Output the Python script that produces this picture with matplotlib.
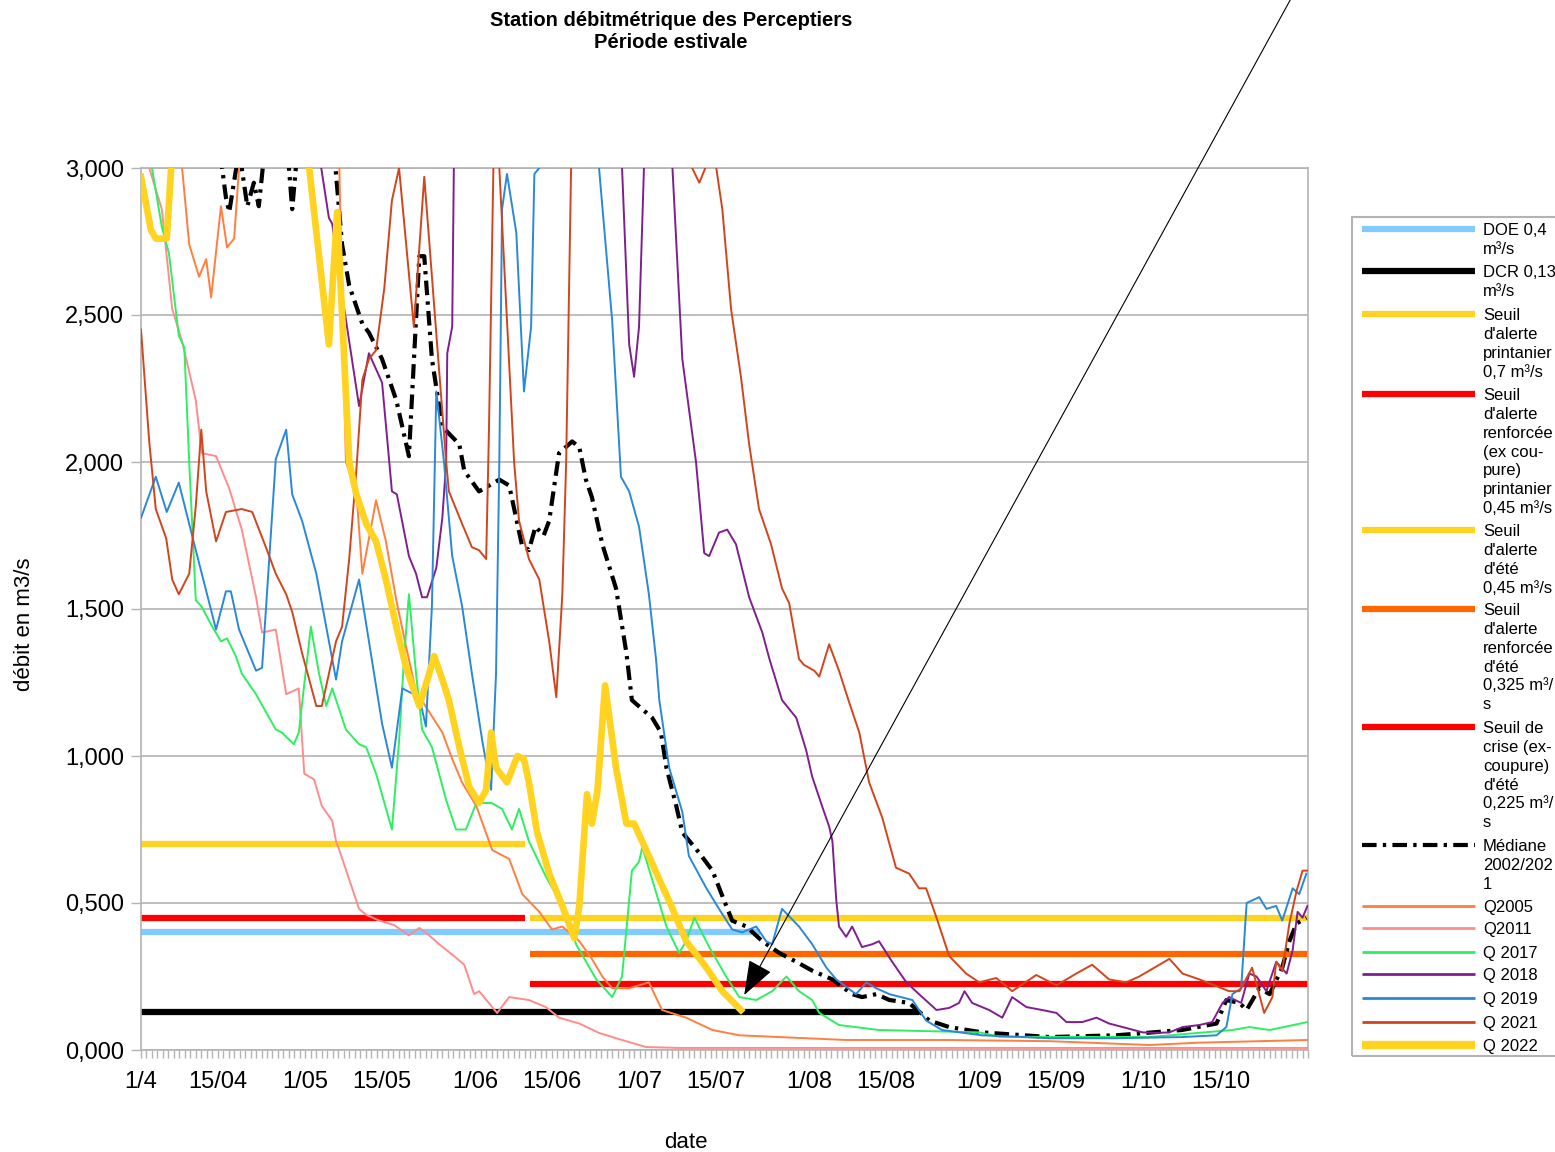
import numpy as np
import matplotlib.pyplot as plt
from matplotlib.lines import Line2D
from matplotlib.patches import Rectangle

plt.rcParams['font.family'] = ['Liberation Sans', 'DejaVu Sans']

# axe des x : jours comptés depuis le 1er avril
jours_ticks = [0, 14, 30, 44, 61, 75, 91, 105, 122, 136, 153, 167, 183, 197]
labels_ticks = ['1/4', '15/04', '1/05', '15/05', '1/06', '15/06', '1/07', '15/07',
                '1/08', '15/08', '1/09', '15/09', '1/10', '15/10']
y_ticks = [0, 0.5, 1.0, 1.5, 2.0, 2.5, 3.0]
y_labels = ['0,000', '0,500', '1,000', '1,500', '2,000', '2,500', '3,000']

# seuils : valeur, jour début, jour fin
doe = [0.4, 0, 113]
dcr = [0.13, 0, 142]
alerte_print = [0.7, 0, 70]
renf_print = [0.45, 0, 70]
alerte_ete = [0.45, 71, 213]
renf_ete = [0.325, 71, 213]
crise_ete = [0.225, 71, 213]

# médiane 2002/2021
med_j = [0, 13, 14.8, 15.5, 16.1, 17.3, 18, 19.4, 20.6, 21.5, 22.5, 26, 27, 27.6, 28.5, 30, 34,
         35.5, 36.7, 38, 40.4, 41.6, 44, 46.6, 48.9, 50.8, 51.7, 53.1, 55, 58.1, 59, 61.7, 65.4,
         67.2, 69.5, 70.8, 72, 73.5, 74.5, 76.3, 78.7, 80, 81.2, 82.3, 84.2, 86.7, 88.6, 89.6,
         93.3, 94.9, 95.9, 97.7, 98.8, 101.9, 104.3, 106.4, 107.9, 110.5, 113.4, 116.5, 119.6,
         122.5, 126.2, 129.8, 131.6, 134.2, 136.6, 140.2, 143.9, 147.5, 153.5, 165.8, 178, 190,
         196.3, 198.1, 200.5, 201.8, 204.1, 206, 208.3, 209.6, 210.9, 212.7]
med_q = [3.4, 3.3, 3.0, 2.9, 2.85, 2.99, 3.05, 2.87, 2.95, 2.87, 3.05, 3.3, 3.0, 2.86, 3.05, 3.4, 3.4,
         3.0, 2.74, 2.6, 2.47, 2.44, 2.35, 2.21, 2.02, 2.70, 2.70, 2.35, 2.12, 2.06, 1.97, 1.90, 1.94,
         1.92, 1.72, 1.70, 1.78, 1.75, 1.80, 2.03, 2.07, 2.05, 1.94, 1.88, 1.72, 1.57, 1.35, 1.19,
         1.13, 1.08, 0.96, 0.83, 0.74, 0.67, 0.61, 0.51, 0.44, 0.42, 0.37, 0.33, 0.30,
         0.27, 0.24, 0.19, 0.18, 0.19, 0.17, 0.16, 0.10, 0.078, 0.06, 0.044, 0.05, 0.068,
         0.09, 0.17, 0.16, 0.136, 0.21, 0.19, 0.28, 0.37, 0.43, 0.45]

q2005_j = [0, 5, 7.5, 8.8, 10.6, 11.9, 12.8, 14.6, 15.7, 17, 17.9, 18.8, 34, 36.2, 36.7, 37.4, 39.3,
           40.4, 42.9, 44.7, 46.6, 48.4, 50.2, 52.6, 55, 56.8, 58.6, 61.2, 64.1, 67.2, 69.6, 72.7,
           75, 76.9, 80, 82.3, 84.2, 86, 89.1, 92.7, 95.1, 99.5, 104.3, 109.2, 116.5, 128.7, 147.5,
           165.8, 184, 193.2, 212.9]
q2005_q = [3.3, 3.3, 3.0, 2.74, 2.63, 2.69, 2.56, 2.87, 2.73, 2.76, 3.0, 3.3, 3.3, 3.0, 2.55, 2.0, 1.90,
           1.62, 1.87, 1.73, 1.53, 1.37, 1.22, 1.15, 1.08, 0.99, 0.91, 0.83, 0.68, 0.65, 0.53, 0.47,
           0.41, 0.42, 0.37, 0.31, 0.25, 0.21, 0.21, 0.23, 0.136, 0.11, 0.068, 0.05, 0.044, 0.034, 0.034,
           0.03, 0.017, 0.025, 0.034]

q2011_j = [0, 1.5, 3.8, 5.7, 7.5, 10, 11.1, 13.7, 16.1, 18.4, 21, 22.1, 24.6, 26.5, 28.8, 29.8,
           31.6, 33, 34.9, 35.6, 36.2, 38, 39.8, 41.1, 43.5, 46.2, 48.9, 50.8, 52.6, 54.4, 57.1, 59,
           60.8, 61.7, 65, 67.2, 70.8, 73.9, 76.3, 80, 83.6, 87.8, 92.2, 98.2, 212.9]
q2011_q = [3.2, 3.0, 2.86, 2.52, 2.41, 2.21, 2.03, 2.02, 1.91, 1.77, 1.54, 1.42, 1.43, 1.21, 1.23, 0.94,
           0.92, 0.83, 0.78, 0.71, 0.68, 0.58, 0.48, 0.46, 0.44, 0.425, 0.39, 0.415, 0.39, 0.36, 0.32, 0.29,
           0.19, 0.20, 0.126, 0.18, 0.17, 0.146, 0.11, 0.09, 0.058, 0.034, 0.01, 0.007, 0.007]

q2017_j = [0, 2, 3.8, 5.1, 6.9, 7.9, 8.8, 10, 11, 13, 14.6, 15.7, 17.3, 18.4, 21, 22.8, 24.6, 25.7,
           27.9, 28.8, 31, 32.5, 33.8, 34.9, 37.4, 39.8, 41.1, 42.9, 45.8, 47.1, 48, 48.9, 50.2,
           51.3, 53.1, 55.7, 57.5, 59.3, 61.2, 64, 65.9, 67.7, 69, 70.8, 73.9, 76.9, 79.4, 83.1, 86,
           87.8, 89.6, 90.9, 91.5, 95.9, 98.2, 99.5, 101, 103.7, 106.8, 109.2, 112.3, 115.2, 117.8,
           120.1, 122.5, 123.8, 127.4, 134.7, 153, 156.7, 184, 199.2, 202.3, 206, 212.9]
q2017_q = [3.3, 3.0, 2.80, 2.71, 2.43, 2.39, 2.0, 1.53, 1.51, 1.44, 1.39, 1.40, 1.34, 1.28, 1.21, 1.15,
           1.09, 1.08, 1.04, 1.08, 1.44, 1.28, 1.17, 1.23, 1.09, 1.04, 1.03, 0.94, 0.75, 1.05, 1.33, 1.55,
           1.28, 1.09, 1.03, 0.85, 0.75, 0.75, 0.84, 0.84, 0.82, 0.75, 0.82, 0.71, 0.59, 0.49, 0.36, 0.24,
           0.18, 0.25, 0.61, 0.64, 0.69, 0.42, 0.33, 0.37, 0.45, 0.35, 0.25, 0.18, 0.17, 0.20, 0.25,
           0.20, 0.17, 0.126, 0.085, 0.068, 0.06, 0.045, 0.044, 0.068, 0.078, 0.068, 0.095]

q2018_j = [0, 30, 32.9, 34.3, 34.9, 36.7, 39.8, 41.6, 44, 45.8, 46.7, 48.9, 50.2, 51.3, 52.2, 53.9,
           55, 55.7, 55.9, 56.8, 57.1, 57.7, 87.3, 87.8, 89.1, 90, 90.9, 91.8, 92.7, 96, 97, 98.8,
           101.3, 102.8, 103.7, 105.5, 107, 108.6, 111, 113.4, 114.7, 117, 119.6, 121.4, 122.5,
           124.3, 125.6, 126.2, 126.9, 127.4, 128.7, 129.8, 131.6, 133.5, 134.7, 137.1, 139.7, 142,
           145.2, 147.5, 149.3, 150.3, 151.7, 154.8, 157.2, 159, 161.6, 164.5, 167.1, 168.9, 171.8,
           174.4, 176.7, 179.8, 182.8, 185.3, 187.7, 190.1, 193.2, 195.5, 197.4, 198.6, 200.8,
           202.3, 203.6, 205.4, 207.2, 209.1, 210.2, 211.1, 212, 212.9]
q2018_q = [3.5, 3.5, 3.0, 2.83, 2.81, 2.57, 2.19, 2.37, 2.27, 1.90, 1.89, 1.68, 1.62, 1.54, 1.54, 1.64,
           1.81, 2.0, 2.37, 2.46, 3.0, 3.4, 3.4, 3.0, 2.40, 2.29, 2.46, 3.0, 3.3, 3.3, 3.0, 2.35,
           2.0, 1.69, 1.68, 1.76, 1.77, 1.72, 1.54, 1.42, 1.33, 1.19, 1.13, 1.02, 0.93,
           0.83, 0.76, 0.71, 0.51, 0.42, 0.385, 0.42, 0.35, 0.36, 0.37, 0.30, 0.23, 0.19,
           0.136, 0.143, 0.16, 0.20, 0.16, 0.136, 0.11, 0.18, 0.146, 0.136, 0.126, 0.095, 0.095,
           0.11, 0.09, 0.075, 0.06, 0.058, 0.06, 0.078, 0.085, 0.095, 0.16, 0.18, 0.16,
           0.26, 0.25, 0.20, 0.30, 0.26, 0.34, 0.47, 0.45, 0.49]

q2019_j = [0, 2.7, 4.7, 6.9, 10, 13.7, 15.5, 16.4, 17.9, 21, 22.1, 24.6, 26.5, 27.6, 29.4, 32, 33.8,
           35.6, 36.7, 39.8, 41.6, 44, 45.8, 47.7, 50.8, 52, 53.1, 53.9, 55.3, 56.8, 58.6, 60.4, 62.3,
           63.9, 64.8, 65.4, 65.9, 66.8, 68.5, 69.9, 71.2, 71.8, 72.7, 73.6, 82.7, 83.6, 86, 87.6,
           89.1, 90.9, 92.7, 94, 94.6, 96.4, 98.8, 100, 103.2, 105.5, 107.9, 109.7, 111, 112.3,
           114.1, 115.2, 117, 120.1, 122.5, 125.1, 126.9, 130.5, 132.4, 134.2, 136.6, 140.8, 143.3,
           146.2, 153.5, 165.8, 178, 190, 196.3, 198.1, 199.2, 200.8, 201.8, 204.1, 205.4, 207.2,
           208.3, 210.2, 211.4, 212.7]
q2019_q = [1.81, 1.95, 1.83, 1.93, 1.70, 1.43, 1.56, 1.56, 1.43, 1.29, 1.30, 2.01, 2.11, 1.89, 1.80, 1.62, 1.44,
           1.26, 1.39, 1.60, 1.39, 1.11, 0.96, 1.23, 1.20, 1.10, 1.51, 2.24, 2.0, 1.68, 1.51, 1.28, 1.05,
           0.885, 1.28, 2.0, 2.86, 2.98, 2.78, 2.24, 2.46, 2.98, 3.0, 3.2, 3.2, 3.0, 2.48, 1.95,
           1.90, 1.78, 1.55, 1.33, 1.19, 0.96, 0.81, 0.66, 0.55, 0.48, 0.41, 0.40, 0.41, 0.42,
           0.37, 0.36, 0.48, 0.42, 0.36, 0.28, 0.24, 0.19, 0.23, 0.21, 0.19, 0.17, 0.10,
           0.068, 0.05, 0.04, 0.04, 0.044, 0.05, 0.078, 0.19, 0.21, 0.50, 0.52, 0.48, 0.49,
           0.44, 0.55, 0.53, 0.60]

q2021_j = [0, 1.5, 2.7, 4.6, 5.7, 6.9, 8.8, 10, 11, 11.9, 13.7, 15.5, 18.4, 20.3, 22.8, 24.6, 26.5,
           27.6, 29.4, 32, 33, 35.6, 36.7, 38, 39.3, 40.4, 41.6, 42.9, 44.4, 45.8, 47.1, 49.8, 51.7,
           55.7, 56.2, 58.6, 60.4, 61.7, 63, 63.5, 64.5, 65, 65.4, 68.1, 69, 70.8, 72.7, 74.5, 75.8,
           76.9, 77.6, 78.5, 79.1, 100, 100.6, 101.9, 103, 104, 105, 106.1, 107.7, 109.5, 111, 112.8,
           115, 117, 118.3, 120.1, 121, 122.9, 123.8, 125.6, 127.4, 129.3, 131.1, 132.9, 135.3,
           137.8, 140.2, 142, 143.3, 145.2, 147.5, 150.6, 153, 156.1, 159, 163.4, 167.1, 170.7,
           173.6, 176.7, 179.8, 182.2, 187.7, 190.1, 193.2, 198.6, 200.5, 202.8, 205, 206.5, 207.2,
           208.3, 209.6, 210.9, 212, 212.9]
q2021_q = [2.45, 2.07, 1.84, 1.74, 1.60, 1.55, 1.62, 1.85, 2.11, 1.90, 1.73, 1.83, 1.84, 1.83, 1.71, 1.62, 1.55,
           1.49, 1.35, 1.17, 1.17, 1.39, 1.44, 1.67, 1.97, 2.28, 2.35, 2.38, 2.59, 2.89, 3.0, 2.46, 2.97,
           2.0, 1.90, 1.79, 1.71, 1.70, 1.67, 2.1, 3.2, 3.2, 3.0, 2.0, 1.80, 1.67, 1.60, 1.39, 1.20,
           1.55, 2.0, 3.0, 3.3, 3.3, 3.0, 2.95, 3.0, 3.1, 3.0, 2.86, 2.52, 2.29, 2.06, 1.84,
           1.72, 1.57, 1.52, 1.33, 1.31, 1.29, 1.27, 1.38, 1.29, 1.18, 1.08, 0.91, 0.79,
           0.62, 0.60, 0.55, 0.55, 0.45, 0.32, 0.26, 0.23, 0.245, 0.20, 0.255, 0.22, 0.26,
           0.29, 0.24, 0.23, 0.25, 0.31, 0.26, 0.24, 0.20, 0.20, 0.28, 0.126, 0.18, 0.30,
           0.27, 0.43, 0.54, 0.61, 0.61]

q2022_j = [0, 1.8, 2.7, 4.7, 5.5, 6.5, 10, 20, 28, 30.7, 34.3, 35.8, 38, 39.3, 41.1, 42.9, 44.7, 46.6,
           48.4, 50.8, 52.6, 53.5, 55, 56.2, 58.1, 59.9, 61.7, 63, 63.9, 64.8, 66.8, 68.7, 69.9, 70.8,
           72.3, 74.5, 76.9, 79.1, 80, 81.4, 82.3, 83.3, 84.7, 86.7, 88.6, 90, 92.2, 94.6, 96.8,
           99.5, 103.2, 106.1, 109.5]
q2022_q = [2.97, 2.79, 2.76, 2.76, 3.0, 3.3, 3.6, 3.6, 3.4, 3.0, 2.40, 2.85, 2.0, 1.89, 1.79, 1.73, 1.60, 1.44,
           1.30, 1.17, 1.28, 1.34, 1.26, 1.19, 1.03, 0.895, 0.84, 0.885, 1.08, 0.96, 0.91, 1.0, 0.99, 0.91,
           0.74, 0.60, 0.49, 0.38, 0.49, 0.87, 0.77, 0.88, 1.24, 0.96, 0.77, 0.77, 0.68, 0.58, 0.49,
           0.37, 0.28, 0.20, 0.136]

# styles
pointille_med = (0, (3.5, 1.5, 0.8, 1.5))
seuils = [
    ('DOE 0,4\nm³/s', doe, '#83CAFF'),
    ('DCR 0,13\nm³/s', dcr, '#000000'),
    ("Seuil\nd'alerte\nprintanier\n0,7 m³/s", alerte_print, '#FFD320'),
    ("Seuil\nd'alerte\nrenforcée\n(ex cou-\npure)\nprintanier\n0,45 m³/s", renf_print, '#FF0000'),
    ("Seuil\nd'alerte\nd'été\n0,45 m³/s", alerte_ete, '#FFD320'),
    ("Seuil\nd'alerte\nrenforcée\nd'été\n0,325 m³/\ns", renf_ete, '#FF6600'),
    ("Seuil de\ncrise (ex-\ncoupure)\nd'été\n0,225 m³/\ns", crise_ete, '#FF0000'),
]
series = [
    ('Q2005', q2005_j, q2005_q, '#FF7F40', 1.4),
    ('Q2011', q2011_j, q2011_q, '#FF8C8C', 1.4),
    ('Q 2017', q2017_j, q2017_q, '#2CF060', 1.4),
    ('Q 2018', q2018_j, q2018_q, '#7F1F8F', 1.4),
    ('Q 2019', q2019_j, q2019_q, '#2A88D8', 1.4),
    ('Q 2021', q2021_j, q2021_q, '#D2451C', 1.4),
    ('Q 2022', q2022_j, q2022_q, '#FFD320', 4.8),
]

W, H = 1555, 1152
fig = plt.figure(figsize=(W / 100, H / 100), dpi=100)
ax = fig.add_axes([141 / W, 1 - 1050 / H, (1308 - 141) / W, (1050 - 168) / H])

for lab, s, c in seuils:
    ax.plot([s[1], s[2]], [s[0], s[0]], color=c, lw=4.5, solid_capstyle='butt', zorder=2)
ax.plot(med_j, med_q, color='black', lw=3, linestyle=pointille_med, dash_capstyle='butt', zorder=3)
for lab, j, q, c, lw in series:
    ax.plot(j, q, color=c, lw=lw, zorder=4, solid_joinstyle='round')

ax.set_xlim(0, 213)
ax.set_ylim(0, 3)
ax.set_xticks(jours_ticks)
ax.set_xticklabels(labels_ticks, fontsize=17)
ax.set_xticks(np.arange(0, 214), minor=True)
ax.set_yticks(y_ticks)
ax.set_yticklabels(y_labels, fontsize=17)
ax.tick_params(axis='x', which='both', length=6, width=1, color='#b3b3b3', pad=9)
ax.tick_params(axis='y', length=7, width=1, color='#b3b3b3', pad=5)
ax.grid(axis='y', color='#b3b3b3', lw=1.2)
ax.set_axisbelow(True)
for sp in ax.spines.values():
    sp.set_color('#b3b3b3')
    sp.set_linewidth(1.2)

# flèche
ax.annotate('', xy=(110.1, 0.187), xytext=(210.3, 3.59), annotation_clip=False,
            arrowprops=dict(arrowstyle='-|>,head_length=22,head_width=8', mutation_scale=1,
                            color='black', lw=0.8, shrinkA=0, shrinkB=0), zorder=6)

# titres
fig.text(671 / W, 1 - 20 / H, 'Station débitmétrique des Perceptiers', ha='center', va='center',
         fontsize=14.5, fontweight='bold')
fig.text(671 / W, 1 - 42 / H, 'Période estivale', ha='center', va='center',
         fontsize=14.5, fontweight='bold')
fig.text(25 / W, 1 - 624 / H, 'débit en m3/s', rotation=90, ha='center', va='center', fontsize=16)
fig.text(686 / W, 1 - 1142 / H, 'date', ha='center', va='center', fontsize=16)

# légende faite à la main (texte sur plusieurs lignes, trait en haut)
fig.add_artist(Rectangle((1352 / W, 1 - 1056 / H), 300 / W, (1056 - 217) / H,
                         transform=fig.transFigure, fill=False, edgecolor='#b3b3b3', lw=1.5))
pos_leg = [229, 271, 314, 394, 530, 609, 727, 845, 906, 928, 952, 974, 998, 1022, 1045]
entrees = [(lab, c, 4.5, '-') for lab, s, c in seuils]
entrees.append(('Médiane\n2002/202\n1', 'black', 3, pointille_med))
entrees += [(lab, c, 2 if lw < 2 else 6, '-') for lab, j, q, c, lw in series]
for yp, (lab, c, lw, ls) in zip(pos_leg, entrees):
    fig.add_artist(Line2D([1362 / W, 1475 / W], [1 - yp / H, 1 - yp / H], transform=fig.transFigure,
                          color=c, lw=lw, linestyle=ls, solid_capstyle='butt', dash_capstyle='butt'))
    fig.text(1483 / W, 1 - (yp - 6) / H, lab, ha='left', va='top', fontsize=12, linespacing=1.32)

fig.savefig('out.png', dpi=100)
